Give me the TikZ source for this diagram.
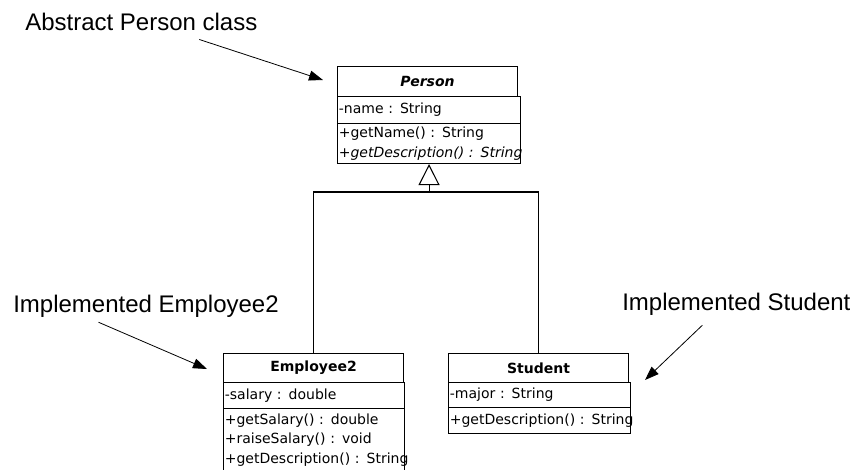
\documentclass[tikz,border=0pt]{standalone}
\usepackage{fontspec}
\setmainfont{Liberation Sans}
\newfontfamily\umlfont{DejaVu Sans}
\usetikzlibrary{arrows.meta}

\tikzset{
  umlhead/.style={draw, line width=0.8pt, inner sep=0pt, minimum width=135pt,
    anchor=north west, font=\umlfont\fontsize{10.5}{12}\selectfont\bfseries},
  umlpart/.style={draw, line width=0.8pt, inner xsep=1pt, inner ysep=0pt, align=left,
    anchor=north west, font=\umlfont\fontsize{10.5}{14.6}\selectfont},
  inherit/.style={line width=0.8pt},
  callout/.style={-{Triangle[length=10.5pt,width=7.5pt]}, line width=0.6pt},
  note/.style={inner sep=0pt, anchor=base west, font=\fontsize{18}{21}\selectfont},
}

\begin{document}
\begin{tikzpicture}[x=0.75pt, y=-0.75pt]
\useasboundingbox (0,0) rectangle (852,469);

% 上:抽象类 Person
\node[umlhead, minimum height=22.5pt] (persontitle) at (337,66) {\itshape Person};
\node[umlpart, text width=135.25pt, minimum height=20.25pt] (personattr) at (337,96) {\mbox{-name : String}};
\node[umlpart, text width=135.25pt, minimum height=30pt] (personops) at (337,123)
    {\mbox{+getName() : String}\\\mbox{\itshape +getDescription() : String}};

% 左下:Employee2
\node[umlhead, minimum height=21.75pt] (emptitle) at (223,353) {Employee2};
\node[umlpart, text width=133.75pt, minimum height=19.5pt] (empattr) at (223,382) {\mbox{-salary : double}};
\node[umlpart, text width=133.75pt, minimum height=47.25pt] (empops) at (223,408)
    {\mbox{+getSalary() : double}\\\mbox{+raiseSalary() : void}\\\mbox{+getDescription() : String}};

% 右下:Student
\node[umlhead, minimum height=21.75pt] (stutitle) at (448,353) {Student};
\node[umlpart, text width=134.5pt, minimum height=18.75pt] (stuattr) at (448,382) {\mbox{-major : String}};
\node[umlpart, text width=134.5pt, minimum height=19.5pt] (stuops) at (448,407) {\mbox{+getDescription() : String}};

% 继承
\coordinate (joint) at (personops.south |- 0,192);
\draw[inherit, -{Triangle[open, length=15.75pt, width=15.75pt]}] (joint) -- (personops.south);
\draw[inherit] (emptitle.north) |- (joint) -| (stutitle.north);

% 说明文字
\node[note] (abslbl) at (25,30) {Abstract Person class};
\node[note] (emplbl) at (13,312) {Implemented Employee2};
\node[note] (stulbl) at (622,310) {Implemented Student};

\coordinate (abstip) at (323,80);
\coordinate (emptip) at (207,369);
\coordinate (stutip) at (645,380);

\draw[callout] ([xshift=43.5pt,yshift=-6.75pt]abslbl.south) -- (abstip);
\draw[callout] ([xshift=-35.6pt,yshift=-3.75pt]emplbl.south) -- (emptip);
\draw[callout] ([xshift=-25.5pt,yshift=-7.5pt]stulbl.south) -- (stutip);

\end{tikzpicture}
\end{document}
